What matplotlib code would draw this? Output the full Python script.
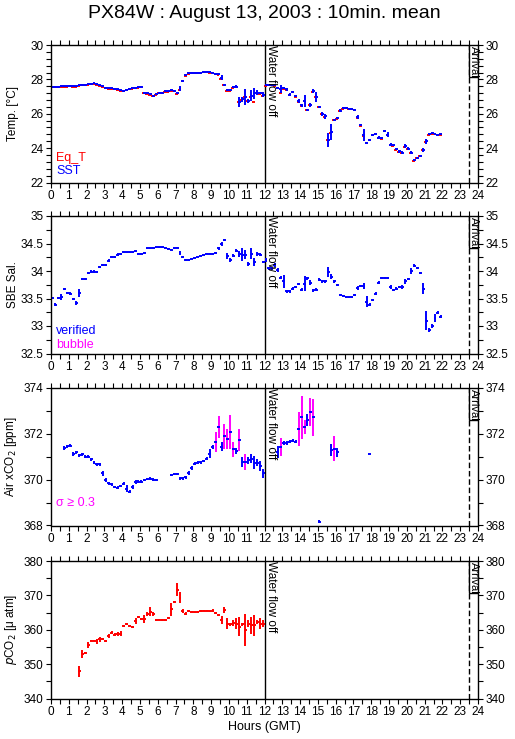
import numpy as np
import matplotlib.pyplot as plt
import matplotlib.transforms as mtransforms
from matplotlib.patches import Rectangle
from matplotlib.ticker import MultipleLocator, FormatStrFormatter

plt.rcParams['font.family'] = ['Liberation Sans', 'DejaVu Sans']

# 10-min bins, bin k is centred at k/6 + 1/12 hours
bin_hours = np.arange(132) / 6 + 1 / 12

# ---- Temperature (SST and equilibrator temperature)
sst = [27.58, 27.58, 27.58, 27.60, 27.60, 27.62, 27.63, 27.62, 27.60, 27.66, 27.70, 27.70,
       27.74, 27.76, 27.77, 27.74, 27.66, 27.60, 27.52, 27.48, 27.47, 27.46, 27.43, 27.36,
       27.35, 27.40, 27.45, 27.50, 27.52, 27.55, 27.58, 27.23, 27.18, 27.14, 27.05, 27.15,
       27.22, 27.23, 27.30, 27.32, 27.36, 27.35, 27.18, 27.47, 27.92, 28.23, 28.38, 28.39,
       28.39, 28.39, 28.40, 28.45, 28.45, 28.44, 28.38, 28.33, 28.32, 28.10, 27.70, 27.39,
       27.37, 27.55, 27.57, 26.67, 26.85, 26.97, 26.75, 27.06, 27.18, 27.22, 27.20, 27.10,
       27.68, 27.70, 27.70, 27.68, 27.52, 27.45, 27.50, 27.43, 27.12, 27.28, 27.05, 26.74,
       26.49, 26.76, 26.24, 26.52, 27.31, 26.98, 26.42, 26.01, 25.85, 24.49, 24.94, 25.66,
       25.76, 26.17, 26.33, 26.36, 26.30, 26.30, 26.23, 25.82, 25.33, 24.75, 24.30, 24.49,
       24.78, 24.84, 24.61, 24.59, 25.02, 24.78, 24.20, 24.16, 23.93, 23.81, 23.73, 24.10,
       23.96, 23.73, 23.28, 23.44, 23.57, 23.90, 24.39, 24.80, 24.88, 24.84, 24.78, 24.80]
sst_err = [.02, .02, .02, .02, .02, .02, .02, .02, .02, .03, .02, .02,
           .02, .02, .02, .04, .02, .02, .02, .02, .02, .02, .02, .02,
           .02, .03, .02, .02, .02, .03, .05, .05, .02, .02, .03, .02,
           .02, .02, .02, .03, .04, .02, .05, .12, .05, .04, .02, .02,
           .02, .02, .02, .02, .03, .02, .02, .02, .02, .15, .03, .05,
           .02, .08, .08, .30, .15, .45, .12, .30, .30, .15, .05, .15,
           .02, .02, .02, .05, .05, .25, .03, .08, .10, .05, .04, .12,
           .08, .35, .03, .10, .12, .30, .05, .12, .15, .40, .45, .06,
           .05, .08, .05, .05, .03, .03, .05, .12, .05, .35, .05, .05,
           .06, .05, .08, .08, .05, .15, .10, .05, .04, .08, .10, .12,
           .08, .10, .04, .05, .04, .10, .15, .06, .06, .05, .04, .03]
eq_t = [27.54, 27.54, 27.55, 27.56, 27.57, 27.58, 27.60, 27.58, 27.54, 27.62, 27.66, 27.67,
        27.70, 27.72, 27.73, 27.70, 27.63, 27.56, 27.48, 27.45, 27.44, 27.43, 27.40, 27.32,
        27.30, 27.36, 27.42, 27.46, 27.48, 27.51, 27.55, 27.20, 27.15, 27.10, 27.01, 27.11,
        27.18, 27.20, 27.26, 27.28, 27.33, 27.31, 27.14, 27.40, 27.88, 28.18, 28.34, 28.35,
        28.35, 28.36, 28.36, 28.41, 28.42, 28.40, 28.35, 28.30, 28.28, 28.05, 27.66, 27.35,
        27.33, 27.50, 27.53, 26.66, 26.80, 26.96, 26.72, 27.00, 26.69, 27.18, 27.16, 27.06,
        27.63, 27.66, 27.66, 27.64, 27.48, 27.20, 27.46, 27.38, 27.10, 27.25, 27.00, 26.70,
        26.48, 26.72, 26.20, 26.50, 27.26, 26.96, 26.40, 25.98, 25.82, 24.46, 24.90, 25.62,
        25.72, 26.14, 26.30, 26.32, 26.27, 26.27, 26.20, 25.78, 25.30, 24.72, 24.28, 24.45,
        24.74, 24.80, 24.58, 24.56, 24.98, 24.75, 24.18, 24.13, 23.90, 23.78, 23.70, 24.06,
        23.95, 23.70, 23.26, 23.42, 23.55, 23.87, 24.35, 24.76, 24.85, 24.81, 24.75, 24.78]

# ---- SBE salinity
sal = [33.51, 33.39, 33.51, 33.53, 33.67, 33.60, 33.59, 33.49, 33.42, 33.60, 33.86, 33.86,
       33.97, 33.99, 33.99, 33.98, 34.07, 34.11, 34.11, 34.19, 34.26, 34.26, 34.30, 34.31,
       34.34, 34.34, 34.34, 34.34, 34.36, 34.31, 34.31, 34.33, 34.41, 34.41, 34.42, 34.43,
       34.43, 34.43, 34.42, 34.40, 34.39, 34.41, 34.42, 34.33, 34.25, 34.20, 34.20, 34.22,
       34.24, 34.26, 34.28, 34.30, 34.31, 34.31, 34.31, 34.33, 34.41, 34.49, 34.57, 34.27,
       34.20, 34.28, 34.37, 34.31, 34.30, 34.30, 34.13, 34.31, 34.17, 34.31, 34.30, 34.17,
       34.20, 34.05, 34.05, 34.11, 34.02, 33.88, 33.81, 33.63, 33.63, 33.68, 33.71, 33.77,
       33.66, 33.77, 33.87, 33.79, 33.65, 33.66, 33.84, 33.81, 33.81, 33.99, 33.90, 33.81,
       33.75, 33.57, 33.55, 33.52, 33.52, 33.52, 33.56, 33.69, 33.73, 33.73, 33.44, 33.39,
       33.47, 33.59, 33.79, 33.87, 33.87, 33.87, 33.71, 33.66, 33.68, 33.71, 33.71, 33.81,
       33.86, 34.00, 34.10, 34.05, 33.96, 33.68, 33.10, 32.93, 33.00, 33.15, 33.24, 33.17]
sal_err = [.02, .03, .02, .05, .02, .02, .02, .02, .03, .07, .02, .02,
           .02, .02, .02, .02, .02, .02, .02, .02, .02, .02, .02, .02,
           .01, .01, .01, .01, .01, .01, .01, .01, .01, .01, .01, .01,
           .01, .01, .01, .01, .01, .01, .01, .03, .02, .01, .01, .01,
           .01, .01, .01, .01, .01, .01, .01, .02, .03, .03, .02, .06,
           .03, .03, .03, .05, .12, .08, .03, .10, .07, .03, .02, .02,
           .03, .03, .03, .03, .03, .03, .12, .03, .03, .03, .02, .02,
           .03, .14, .03, .04, .03, .03, .03, .02, .02, .09, .05, .02,
           .02, .02, .02, .01, .01, .01, .02, .03, .02, .05, .10, .03,
           .02, .03, .03, .02, .02, .02, .03, .02, .02, .02, .03, .05,
           .02, .06, .03, .02, .02, .10, .18, .03, .04, .07, .03, .03]

# ---- Air xCO2
xco2_bin = [4, 5, 6, 7, 8, 9, 10, 11, 12, 13, 14, 15, 16, 17, 18, 19, 20, 21, 22, 23,
            24, 25, 26, 27, 28, 29, 30, 31, 32, 33, 34, 35,
            40, 41, 42, 43, 44, 45, 46, 47, 48, 49, 50, 51, 52, 53, 54, 55, 56, 57, 58, 59,
            60, 61, 62, 63, 64, 65, 66, 67, 68, 69, 70, 71,
            76, 77, 78, 79, 80, 81, 82, 83, 84, 85, 86, 87, 88, 90, 94, 95, 96, 107]
xco2 = [371.39, 371.46, 371.49, 371.13, 371.20, 371.06, 371.10, 371.00, 371.00, 370.88,
        370.74, 370.67, 370.67, 370.28, 369.98, 369.84, 369.80, 369.68, 369.65, 369.72,
        369.82, 369.61, 369.48, 369.68, 369.90, 369.91, 369.91, 369.98, 370.03, 370.04,
        370.00, 369.99,
        370.20, 370.25, 370.25, 370.06, 370.06, 370.10, 370.28, 370.50, 370.70, 370.74,
        370.76, 370.81, 370.91, 371.13, 371.42, 371.65, 372.29, 371.43, 371.90, 371.78,
        372.07, 371.32, 371.25, 371.74, 370.77, 370.77, 370.85, 370.91, 370.74, 370.74,
        370.60, 370.28,
        371.20, 371.42, 371.60, 371.60, 371.66, 371.70, 371.66, 372.20, 372.72, 372.30,
        372.60, 372.95, 372.72, 368.16, 371.30, 371.35, 371.20, 371.10]
xco2_err = [.10, .06, .06, .08, .06, .06, .06, .06, .06, .08,
            .06, .06, .06, .10, .08, .06, .06, .06, .06, .06,
            .06, .15, .06, .08, .08, .06, .06, .06, .06, .06,
            .06, .06,
            .06, .06, .06, .06, .06, .06, .08, .08, .06, .06,
            .06, .06, .06, .20, .08, .45, .48, .20, .55, .45,
            .75, .33, .15, .47, .22, .36, .15, .20, .29, .15,
            .22, .20,
            .25, .40, .10, .08, .08, .06, .06, .75, .95, .30,
            .25, .60, .80, .06, .25, .55, .20, 0.0]

# ---- pCO2
pco2_bin = list(range(9, 72))
pco2 = [348.0, 353.0, 353.3, 355.5, 356.8, 356.8, 356.6, 357.2, 357.2, 356.6, 358.1,
        359.2, 358.6, 358.8, 358.8, 361.0, 361.8, 361.2, 360.9, 362.5, 363.8, 363.1,
        363.1, 364.6, 365.2, 364.6, 362.8, 362.9, 362.8, 362.8, 363.4, 365.9, 368.1,
        371.7, 369.3, 365.4, 364.7, 365.5, 365.3, 365.1, 365.2, 365.5, 365.6, 365.6,
        365.4, 365.6, 364.9, 364.2, 362.8, 365.7, 361.8, 361.6, 362.0, 361.8, 360.9,
        361.6, 359.9, 361.8, 361.3, 361.3, 362.3, 361.8, 361.8]
pco2_err = [1.6, 1.2, 0.3, 0.8, 0.2, 0.2, 0.6, 0.7, 0.3, 0.3, 0.6,
            0.3, 0.5, 0.5, 0.7, 0.3, 0.3, 0.2, 0.3, 0.8, 0.3, 0.4,
            1.2, 0.6, 1.3, 0.6, 0.2, 0.2, 0.2, 0.2, 0.3, 1.8, 0.3,
            2.0, 1.6, 0.5, 0.5, 0.2, 0.2, 0.2, 0.2, 0.2, 0.2, 0.2,
            0.2, 0.3, 0.3, 0.2, 1.2, 0.8, 1.6, 0.5, 0.8, 1.6, 2.8,
            0.5, 4.7, 1.0, 2.4, 3.1, 0.5, 1.5, 1.0]

BLUE, RED, MAG = '#0000ff', '#ff0000', '#ff00ff'
HALF = 1 / 12
LW = 1.4
PANEL_H = 137.5

fig = plt.figure(figsize=(5.15, 7.39), dpi=100)
left, width, height = 51 / 515, 427 / 515, PANEL_H / 739
tops = [45, 216, 388, 561]
axes = [fig.add_axes([left, 1 - (t + PANEL_H) / 739, width, height]) for t in tops]


def setup(ax, ylim, major, minor, ylabel):
    ax.set_xlim(0, 24)
    ax.set_ylim(*ylim)
    ax.xaxis.set_major_locator(MultipleLocator(1))
    ax.xaxis.set_minor_locator(MultipleLocator(0.5))
    ax.yaxis.set_major_locator(MultipleLocator(major))
    ax.yaxis.set_minor_locator(MultipleLocator(minor))
    ax.yaxis.set_major_formatter(FormatStrFormatter('%g'))
    ax.tick_params(which='both', direction='out', top=True, right=True,
                   labelright=True, labelsize=8.5, width=0.8, length=3.5, pad=2)
    for s in ax.spines.values():
        s.set_linewidth(1.0)
    ax.set_ylabel(ylabel, fontsize=8.5)
    ax.yaxis.set_label_coords(-0.075, 0.5)
    ax.axvline(12, color='k', lw=1.0)
    ax.axvline(23.5, color='k', lw=1.0, ls=(0, (4, 2)))
    ax.text(12.03, ylim[1], 'Water flow off', rotation=-90, ha='left', va='top',
            fontsize=8.5)
    # "Arrival" box sits between the dashed line and the right frame
    trans = mtransforms.blended_transform_factory(ax.transData, ax.transAxes)
    box_h = 32 / PANEL_H
    ax.add_patch(Rectangle((23.5, 1 - box_h), 0.5, box_h, transform=trans,
                           fc='white', ec='k', lw=1.0, zorder=3))
    ax.text(23.77, 0.995, 'Arrival', rotation=-90, ha='center', va='top', fontsize=8,
            transform=trans, zorder=4)


# Temperature
ax = axes[0]
setup(ax, (22, 30), 2, 0.4, 'Temp. [°C]')
ax.errorbar(bin_hours - 0.03, eq_t, xerr=HALF, fmt='none', ecolor=RED, elinewidth=LW, capsize=0)
ax.errorbar(bin_hours, sst, xerr=HALF, yerr=sst_err, fmt='none', ecolor=BLUE,
            elinewidth=LW, capsize=0)
ax.text(0.012, 0.18, 'Eq_T', color=RED, transform=ax.transAxes, fontsize=9, va='center')
ax.text(0.012, 0.08, 'SST', color=BLUE, transform=ax.transAxes, fontsize=9, va='center')

# Salinity
ax = axes[1]
setup(ax, (32.5, 35), 0.5, 0.25, 'SBE Sal.')
ax.errorbar(bin_hours, sal, xerr=HALF, yerr=sal_err, fmt='none', ecolor=BLUE,
            elinewidth=LW, capsize=0)
ax.text(0.012, 0.16, 'verified', color=BLUE, transform=ax.transAxes, fontsize=9, va='center')
ax.text(0.012, 0.065, 'bubble', color=MAG, transform=ax.transAxes, fontsize=9, va='center')

# Air xCO2
ax = axes[2]
setup(ax, (368, 374), 2, 1, 'Air xCO$_2$ [ppm]')
xt = bin_hours[xco2_bin]
xv = np.array(xco2)
xe = np.array(xco2_err)
big = xe >= 0.3
ax.errorbar(xt[big], xv[big], yerr=xe[big], fmt='none', ecolor=MAG, elinewidth=LW, capsize=0)
ax.errorbar(xt[~big], xv[~big], yerr=xe[~big], fmt='none', ecolor=BLUE, elinewidth=LW, capsize=0)
ax.errorbar(xt, xv, xerr=HALF, fmt='none', ecolor=BLUE, elinewidth=LW, capsize=0)
ax.text(0.012, 0.167, 'σ ≥ 0.3', color=MAG, transform=ax.transAxes, fontsize=9, va='center')

# pCO2
ax = axes[3]
setup(ax, (340, 380), 10, 5, '$p$CO$_2$ [μ atm]')
ax.errorbar(bin_hours[pco2_bin], pco2, xerr=HALF, yerr=pco2_err, fmt='none', ecolor=RED,
            elinewidth=LW, capsize=0)
ax.set_xlabel('Hours (GMT)', fontsize=9, labelpad=2)

fig.text(264 / 515, 1 - 13 / 739, 'PX84W : August 13, 2003 : 10min. mean',
         ha='center', va='center', fontsize=14)

fig.savefig('out.png', dpi=100)
